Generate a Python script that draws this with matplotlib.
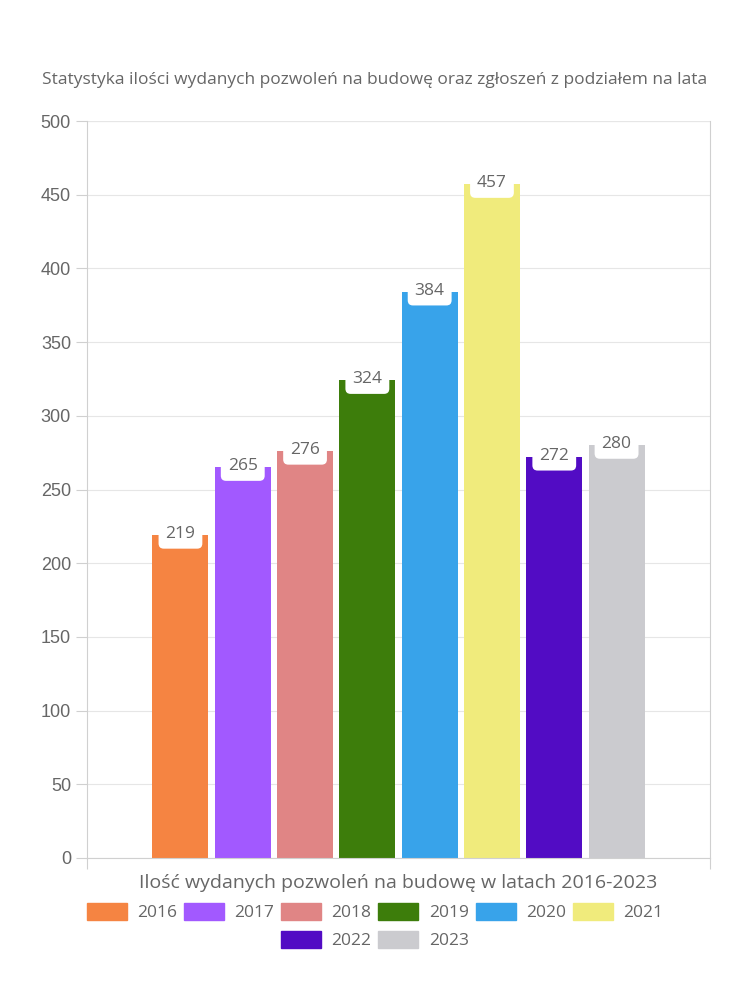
import matplotlib.pyplot as plt
from matplotlib.patches import Patch

years = ['2016', '2017', '2018', '2019', '2020', '2021', '2022', '2023']
values = [219, 265, 276, 324, 384, 457, 272, 280]
colors = ['#F58442', '#A259FF', '#E08585', '#3D7D0B', '#38A3EA', '#F0EB7C', '#520CC4', '#CBCBCF']

plt.rcParams['font.family'] = ['Open Sans', 'DejaVu Sans']
txt = '#666666'
grid = '#E6E6E6'

fig = plt.figure(figsize=(7.5, 10), dpi=100)
ax = fig.add_axes([0.116, 0.142, 0.8307, 0.737])

x = list(range(len(years)))
ax.bar(x, values, width=0.9, color=colors, zorder=2)

# value labels sit in a white rounded box centred on the bar top
for xi, v in zip(x, values):
    ax.text(xi, v + 1, str(v), ha='center', va='center', fontsize=12.5, color=txt, zorder=3,
            bbox=dict(boxstyle='round,pad=0.4,rounding_size=0.3', fc='white', ec='none'))

ax.set_xlim(-1.5, 8.5)
ax.set_ylim(0, 500)
ax.set_yticks(range(0, 501, 50))
ax.set_xticks([-1.5, 8.5])
ax.set_xticklabels(['', ''])
ax.tick_params(axis='y', colors='#D0D0D0', labelcolor=txt, labelsize=13, length=8, width=0.8,
               labelfontfamily='Liberation Sans')
ax.tick_params(axis='x', colors='#D0D0D0', length=8, width=0.8)
ax.grid(axis='y', color=grid, linewidth=0.8, zorder=0)
for s in ['left', 'right', 'bottom']:
    ax.spines[s].set_color('#D0D0D0')
    ax.spines[s].set_linewidth(0.8)
ax.spines['top'].set_visible(False)
ax.axhline(500, color=grid, linewidth=0.8, zorder=0)

ax.set_xlabel('Ilość wydanych pozwoleń na budowę w latach 2016-2023', fontsize=14,
              color=txt, labelpad=0)
fig.text(0.5, 0.92, 'Statystyka ilości wydanych pozwoleń na budowę oraz zgłoszeń z podziałem na lata',
         ha='center', va='center', fontsize=12.5, color=txt)

handles = [Patch(color=c, label=y) for c, y in zip(colors, years)]
kw = dict(frameon=False, fontsize=12.5, labelcolor=txt, handlelength=2.3, handleheight=1.1,
          handletextpad=0.6, columnspacing=0.4, loc='center')
fig.legend(handles=handles[:6], ncol=6, bbox_to_anchor=(0.5, 0.088), **kw)
fig.legend(handles=handles[6:], ncol=2, bbox_to_anchor=(0.5, 0.06), **kw)

fig.savefig('out.png', dpi=100)
